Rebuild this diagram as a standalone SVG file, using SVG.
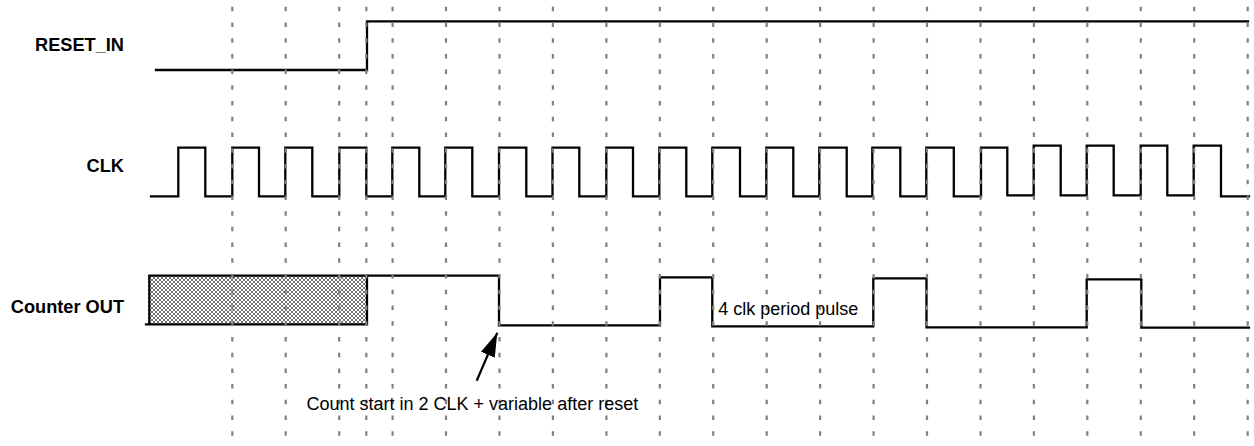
<svg xmlns="http://www.w3.org/2000/svg" width="1254" height="446" viewBox="0 0 1254 446">
<style>
.grid{stroke:#808080;stroke-width:2.2;stroke-dasharray:4.5 11.225;fill:none}
.wave{stroke:#000;stroke-width:2.3;fill:none;stroke-linejoin:miter;stroke-linecap:square}
.lbl{font-family:"Liberation Sans",Arial,sans-serif;font-weight:bold;font-size:18.2px;fill:#000;text-anchor:end}
.note{font-family:"Liberation Sans",Arial,sans-serif;font-size:18px;fill:#000}
</style>
<defs>
<pattern id="hatch" width="4" height="4" patternUnits="userSpaceOnUse">
<rect width="4" height="4" fill="#fff"/>
<path d="M0,0 L4,4 M4,0 L0,4" stroke="#000" stroke-width="0.55"/>
</pattern>
<marker id="ah" markerUnits="userSpaceOnUse" markerWidth="26" markerHeight="16" refX="24" refY="7.5" orient="auto">
<path d="M0,0 L24,7.5 L0,15 Z" fill="#000"/>
</marker>
</defs>
<rect width="1254" height="446" fill="#fff"/>

<g id="labels">
<text class="lbl" x="124" y="51">RESET_IN</text>
<text class="lbl" x="124" y="171.7">CLK</text>
<text class="lbl" x="124" y="312.7">Counter OUT</text>
</g>

<g id="reset_in">
<path class="wave" d="M156,70 H367 V21.3 H1248"/>
</g>

<g id="clk">
<path class="wave" d="M151,196.3 H178.3 V147.7 H205.3 V196.3 H232.3 V147.7 H259 V196.3 H285.3 V147.7 H312.3 V196.3 H339.3 V147.7 H366.3 V196.3 H392.3 V147.7 H419.3 V196.3 H445.3 V147.7 H472.3 V196.3 H499 V147.7 H526.3 V196.3 H552.5 V147.7 H579.3 V196.3 H606.3 V147.7 H633 V196.3 H659.3 V147.7 H686.3 V196.3 H712.3 V147.7 H740 V196.3 H766.3 V147.7 H793.3 V196.3 H819.3 V147.7 H846.7 V196.3 H872.3 V147.7 H900.3 V196.3 H926.3 V147.7 H953.8 V196.3 H981 V147.7 H1007.3 V195.3 H1033.7 V145.7 H1060.7 V195.3 H1086.7 V145.7 H1113.7 V195.3 H1140.7 V145.7 H1167.3 V195.3 H1193.7 V145.7 H1221 V196.3 H1249"/>
</g>

<g id="counter_out">
<rect x="149.3" y="275.7" width="217.7" height="48.6" fill="url(#hatch)"/>
<path class="wave" d="M146,324.3 H367 M149.3,324.3 V275.7 H367 V324.3"/>
<path class="wave" d="M367,275.7 H499 V325.3 H660 V277.3 H712.3 V326.3 H873.3 V278.3 H926.5 V327.3 H1086.7 V279.3 H1141.3 V327.7 H1249"/>
</g>

<g id="grid">
<path class="grid" d="M232.3,6.7 V437 M285.7,6.7 V437 M339.2,6.7 V437 M366.3,6.7 V437 M392.6,6.7 V437 M446,6.7 V437 M499.5,6.7 V437 M552.9,6.7 V437 M606.4,6.7 V437 M659.8,6.7 V437 M713.2,6.7 V437 M766.7,6.7 V437 M820.1,6.7 V437 M873.6,6.7 V437 M927,6.7 V437 M980.5,6.7 V437 M1033.9,6.7 V437 M1087.3,6.7 V437 M1140.8,6.7 V437 M1194.2,6.7 V437 M1247.7,6.7 V437"/>
</g>

<g id="connectors">
<line x1="476.7" y1="380.7" x2="497.3" y2="332.7" stroke="#000" stroke-width="2.2" marker-end="url(#ah)"/>
</g>

<g id="notes">
<text class="note" x="306.5" y="409.5">Count start in 2 CLK + variable after reset</text>
<text class="note" x="718.3" y="315">4 clk period pulse</text>
</g>
</svg>
